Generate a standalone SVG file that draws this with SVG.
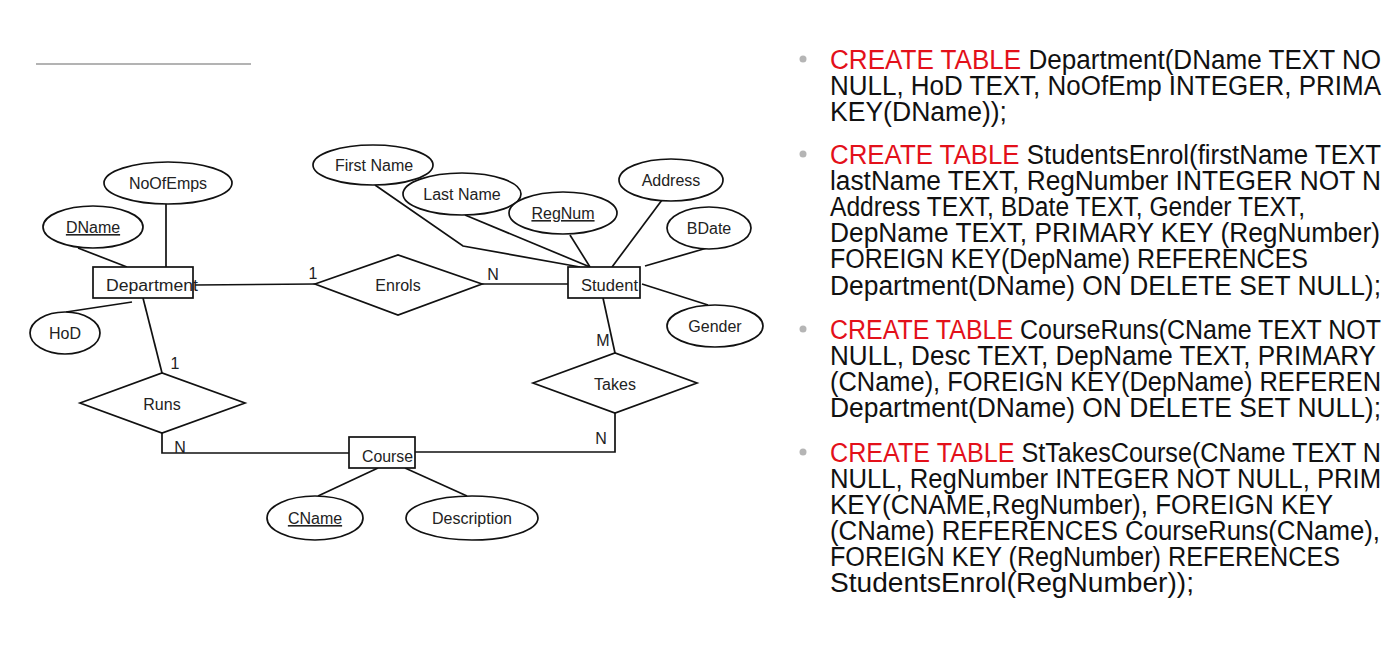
<svg xmlns="http://www.w3.org/2000/svg" width="1384" height="659" viewBox="0 0 1384 659">
<style>
.shape{fill:#fff;stroke:#111;stroke-width:1.7}
.conn line,.conn polyline{fill:none;stroke:#111;stroke-width:1.7}
.lbl{font-family:"Liberation Sans",Arial,sans-serif;font-size:16px;fill:#222}
.mid{text-anchor:middle}
.key{text-decoration:underline}
.sql{font-family:"Liberation Sans",Arial,sans-serif;font-size:27px;fill:#111}
.red{fill:#e3101a}
.bul{fill:#b5b5b5}
</style>
<rect width="1384" height="659" fill="#fff"/>
<line x1="36" y1="64" x2="251" y2="64" stroke="#b3b3b3" stroke-width="2"/>

<g id="connectors" class="conn">
<line x1="166" y1="204" x2="166" y2="267"/>
<line x1="78" y1="248" x2="127" y2="267"/>
<line x1="66" y1="312" x2="132" y2="302"/>
<line x1="195" y1="285" x2="315" y2="284"/>
<line x1="143" y1="298" x2="162" y2="373"/>
<line x1="482" y1="284" x2="568" y2="284"/>
<polyline points="375,185 463,246 580,267"/>
<line x1="465" y1="215" x2="590" y2="267"/>
<line x1="570" y1="235" x2="590" y2="267"/>
<line x1="662" y1="200" x2="612" y2="267"/>
<line x1="707" y1="248" x2="645" y2="266"/>
<line x1="642" y1="284" x2="708" y2="305"/>
<line x1="603" y1="298" x2="615" y2="353"/>
<polyline points="615,413 615,452 415,452"/>
<polyline points="162,433 162,453 349,453"/>
<line x1="378" y1="468" x2="318" y2="496"/>
<line x1="405" y1="468" x2="467" y2="496"/>
<text class="lbl mid" x="313" y="279">1</text>
<text class="lbl mid" x="493" y="280">N</text>
<text class="lbl mid" x="603" y="346">M</text>
<text class="lbl mid" x="601" y="444">N</text>
<text class="lbl mid" x="175" y="369">1</text>
<text class="lbl mid" x="180" y="453">N</text>
</g>

<g id="department"><rect class="shape" x="93" y="267" width="100" height="31"/><text class="lbl" x="106" y="291" textLength="92" lengthAdjust="spacingAndGlyphs">Department</text></g>
<g id="student"><rect class="shape" x="568" y="267" width="72" height="31"/><text class="lbl" x="581" y="291" textLength="57" lengthAdjust="spacingAndGlyphs">Student</text></g>
<g id="course"><rect class="shape" x="349" y="437" width="66" height="31"/><text class="lbl" x="362" y="462" textLength="51" lengthAdjust="spacingAndGlyphs">Course</text></g>

<g id="enrols"><polygon class="shape" points="315,284 398,255 482,284 398,315"/><text class="lbl mid" x="398" y="291">Enrols</text></g>
<g id="runs"><polygon class="shape" points="80,403 162,373 245,403 162,433"/><text class="lbl mid" x="162" y="410">Runs</text></g>
<g id="takes"><polygon class="shape" points="533,383 615,353 697,383 615,413"/><text class="lbl mid" x="615" y="390">Takes</text></g>

<g id="noofemps"><ellipse class="shape" cx="168" cy="183" rx="64" ry="21"/><text class="lbl mid" x="168" y="189">NoOfEmps</text></g>
<g id="dname"><ellipse class="shape" cx="93" cy="227" rx="50" ry="21"/><text class="lbl mid key" x="93" y="233">DName</text></g>
<g id="hod"><ellipse class="shape" cx="65" cy="333" rx="35" ry="21"/><text class="lbl mid" x="65" y="339">HoD</text></g>
<g id="firstname"><ellipse class="shape" cx="373" cy="165" rx="60" ry="20"/><text class="lbl mid" x="374" y="171">First Name</text></g>
<g id="lastname"><ellipse class="shape" cx="462" cy="194" rx="59" ry="21"/><text class="lbl mid" x="462" y="200">Last Name</text></g>
<g id="regnum"><ellipse class="shape" cx="563" cy="213" rx="54" ry="21"/><text class="lbl mid key" x="563" y="219">RegNum</text></g>
<g id="address"><ellipse class="shape" cx="671" cy="180" rx="52" ry="21"/><text class="lbl mid" x="671" y="186">Address</text></g>
<g id="bdate"><ellipse class="shape" cx="709" cy="228" rx="42" ry="21"/><text class="lbl mid" x="709" y="234">BDate</text></g>
<g id="gender"><ellipse class="shape" cx="715" cy="326" rx="48" ry="21"/><text class="lbl mid" x="715" y="332">Gender</text></g>
<g id="description"><ellipse class="shape" cx="472" cy="518" rx="66" ry="22"/><text class="lbl mid" x="472" y="524">Description</text></g>
<g id="cname"><ellipse class="shape" cx="315" cy="518" rx="48" ry="22"/><text class="lbl mid key" x="315" y="524">CName</text></g>

<g id="sql">
<circle class="bul" cx="803" cy="59" r="3.5"/>
<circle class="bul" cx="803" cy="154" r="3.5"/>
<circle class="bul" cx="803" cy="329" r="3.5"/>
<circle class="bul" cx="803" cy="452" r="3.5"/>
<text class="sql" x="830" y="69" textLength="551" lengthAdjust="spacingAndGlyphs"><tspan class="red">CREATE TABLE</tspan> Department(DName TEXT NO</text>
<text class="sql" x="830" y="95" textLength="551" lengthAdjust="spacingAndGlyphs">NULL, HoD TEXT, NoOfEmp INTEGER, PRIMA</text>
<text class="sql" x="830" y="121" textLength="177" lengthAdjust="spacingAndGlyphs">KEY(DName));</text>
<text class="sql" x="830" y="164" textLength="551" lengthAdjust="spacingAndGlyphs"><tspan class="red">CREATE TABLE</tspan> StudentsEnrol(firstName TEXT</text>
<text class="sql" x="830" y="190" textLength="551" lengthAdjust="spacingAndGlyphs">lastName TEXT, RegNumber INTEGER NOT N</text>
<text class="sql" x="830" y="216" textLength="475" lengthAdjust="spacingAndGlyphs">Address TEXT, BDate TEXT, Gender TEXT,</text>
<text class="sql" x="830" y="242" textLength="550" lengthAdjust="spacingAndGlyphs">DepName TEXT, PRIMARY KEY (RegNumber)</text>
<text class="sql" x="830" y="268" textLength="478" lengthAdjust="spacingAndGlyphs">FOREIGN KEY(DepName) REFERENCES</text>
<text class="sql" x="830" y="295" textLength="551" lengthAdjust="spacingAndGlyphs">Department(DName) ON DELETE SET NULL);</text>
<text class="sql" x="830" y="339" textLength="551" lengthAdjust="spacingAndGlyphs"><tspan class="red">CREATE TABLE</tspan> CourseRuns(CName TEXT NOT</text>
<text class="sql" x="830" y="365" textLength="546" lengthAdjust="spacingAndGlyphs">NULL, Desc TEXT, DepName TEXT, PRIMARY</text>
<text class="sql" x="830" y="391" textLength="551" lengthAdjust="spacingAndGlyphs">(CName), FOREIGN KEY(DepName) REFEREN</text>
<text class="sql" x="830" y="417" textLength="551" lengthAdjust="spacingAndGlyphs">Department(DName) ON DELETE SET NULL);</text>
<text class="sql" x="830" y="462" textLength="551" lengthAdjust="spacingAndGlyphs"><tspan class="red">CREATE TABLE</tspan> StTakesCourse(CName TEXT N</text>
<text class="sql" x="830" y="488" textLength="551" lengthAdjust="spacingAndGlyphs">NULL, RegNumber INTEGER NOT NULL, PRIM</text>
<text class="sql" x="830" y="514" textLength="503" lengthAdjust="spacingAndGlyphs">KEY(CNAME,RegNumber), FOREIGN KEY</text>
<text class="sql" x="830" y="540" textLength="550" lengthAdjust="spacingAndGlyphs">(CName) REFERENCES CourseRuns(CName),</text>
<text class="sql" x="830" y="566" textLength="510" lengthAdjust="spacingAndGlyphs">FOREIGN KEY (RegNumber) REFERENCES</text>
<text class="sql" x="830" y="592" textLength="364" lengthAdjust="spacingAndGlyphs">StudentsEnrol(RegNumber));</text>
</g>
</svg>
